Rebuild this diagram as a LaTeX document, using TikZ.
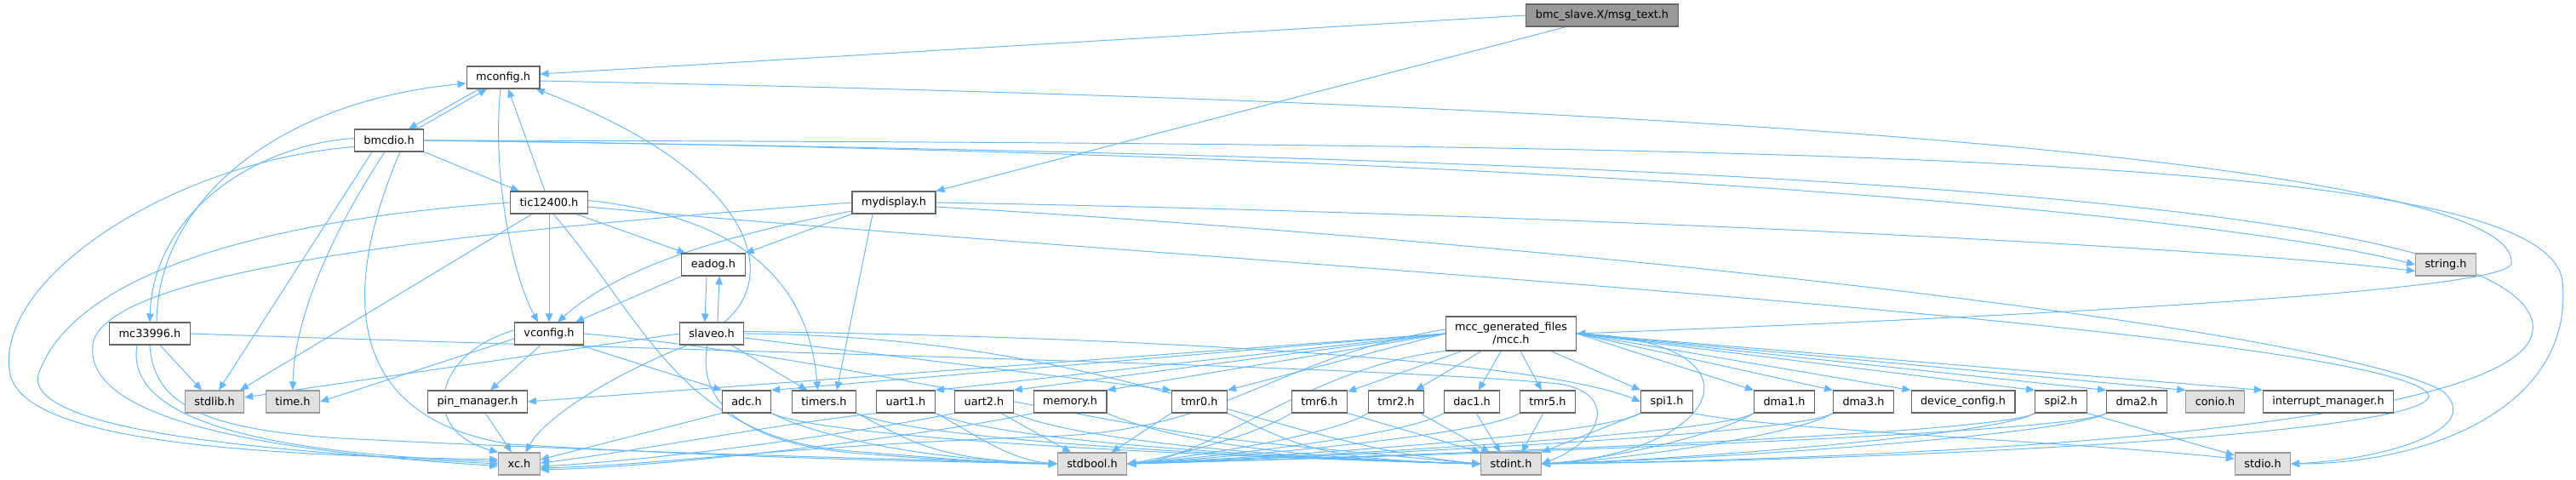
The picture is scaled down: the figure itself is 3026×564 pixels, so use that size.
\documentclass[tikz,border=0pt]{standalone}
\usepackage{fontspec}
\setmainfont{DejaVu Sans}
\usepackage{tikz}
\usetikzlibrary{arrows.meta,backgrounds}
\definecolor{DepBlue}{HTML}{63B8FF}
\definecolor{BoxEdge}{HTML}{666666}
\definecolor{SysFill}{HTML}{E0E0E0}
\definecolor{SysEdge}{HTML}{999999}
\definecolor{RootFill}{HTML}{999999}

\begin{document}
\begin{tikzpicture}[x=0.02cm, y=-0.02cm, font=\fontsize{7.3}{8.4}\selectfont,
  hdr/.style={draw=BoxEdge, fill=white, line width=0.6pt, inner xsep=0.22cm, inner ysep=0pt, minimum height=0.52cm},
  syshdr/.style={hdr, draw=SysEdge, fill=SysFill},
  roothdr/.style={hdr, fill=RootFill},
  dep/.style={draw=DepBlue, line width=0.55pt, -{Triangle[length=0.2cm,width=0.17cm]}}]

\useasboundingbox (0,0) rectangle (3026,564);

\node[roothdr] (msg) at (1882,18) {bmc\_slave.X/msg\_text.h};
\node[hdr] (mconfig) at (591,91) {mconfig.h};
\node[hdr] (bmcdio) at (457,165) {bmcdio.h};
\node[hdr] (tic12400) at (645,238) {tic12400.h};
\node[hdr] (mydisplay) at (1050,238) {mydisplay.h};
\node[hdr] (eadog) at (838,311) {eadog.h};
\node[syshdr] (string) at (2873,311) {string.h};
\node[hdr] (mc33996) at (176,392) {mc33996.h};
\node[hdr] (vconfig) at (645,392) {vconfig.h};
\node[hdr] (slaveo) at (836,392) {slaveo.h};
\node[hdr, minimum height=0.8cm, align=center] (mcc) at (1775,392) {mcc\_generated\_files\\/mcc.h};

\node[syshdr] (stdlib) at (252,472) {stdlib.h};
\node[syshdr] (time) at (344,472) {time.h};
\node[hdr] (pinman) at (561,472) {pin\_manager.h};
\node[hdr] (adc) at (877,472) {adc.h};
\node[hdr] (timers) at (968,472) {timers.h};
\node[hdr] (uart1) at (1064,472) {uart1.h};
\node[hdr] (uart2) at (1156,472) {uart2.h};
\node[hdr] (memory) at (1257,472) {memory.h};
\node[hdr] (tmr0) at (1409,472) {tmr0.h};
\node[hdr] (tmr6) at (1550,472) {tmr6.h};
\node[hdr] (tmr2) at (1640,472) {tmr2.h};
\node[hdr] (dac1) at (1729,472) {dac1.h};
\node[hdr] (tmr5) at (1818,472) {tmr5.h};
\node[hdr] (spi1) at (1958,472) {spi1.h};
\node[hdr] (dma1) at (2096,472) {dma1.h};
\node[hdr] (dma3) at (2189,472) {dma3.h};
\node[hdr] (devcfg) at (2306,472) {device\_config.h};
\node[hdr] (spi2) at (2421,472) {spi2.h};
\node[hdr] (dma2) at (2510,472) {dma2.h};
\node[syshdr] (conio) at (2602,472) {conio.h};
\node[hdr] (intmgr) at (2735,472) {interrupt\_manager.h};

\node[syshdr] (xc) at (610,545) {xc.h};
\node[syshdr] (stdbool) at (1283,545) {stdbool.h};
\node[syshdr] (stdint) at (1775,545) {stdint.h};
\node[syshdr] (stdio) at (2658,545) {stdio.h};

\begin{pgfonlayer}{background}
\fill[white] (0,0) rectangle (3026,564);

% root
\draw[dep] (msg.west) -- ([yshift=0.08cm]mconfig.east);
\draw[dep] ([xshift=-0.84cm]msg.south) -- (mydisplay.north east);

% mconfig.h
\draw[dep] ([xshift=-0.56cm]mconfig.south) -- ([xshift=0.46cm]bmcdio.north);
\draw[dep] ([xshift=-0.06cm]mconfig.south) .. controls (578,200) and (600,320) .. ([xshift=-0.26cm]vconfig.north);
\draw[dep] ([yshift=-0.08cm]mconfig.east) .. controls (2400,130) and (2960,220) .. (2950,310) .. controls (2940,345) and (2300,375) .. (mcc.east);

% bmcdio.h
\draw[dep] ([xshift=0.66cm]bmcdio.north) -- ([xshift=-0.38cm]mconfig.south);
\draw[dep] ([yshift=0.05cm]bmcdio.west) .. controls (300,170) and (180,250) .. (mc33996.north);
\draw[dep] (bmcdio.south east) -- ([xshift=-0.7cm]tic12400.north);
\draw[dep] ([xshift=-0.4cm]bmcdio.south) -- ([xshift=0.1cm]stdlib.north);
\draw[dep] ([xshift=-0.1cm]bmcdio.south) .. controls (385,280) and (345,380) .. (time.north);
\draw[dep] ([yshift=-0.15cm]bmcdio.west) .. controls (200,190) and (-10,330) .. (12,440) .. controls (30,520) and (300,535) .. ([yshift=0.1cm]xc.west);
\draw[dep] ([xshift=0.26cm]bmcdio.south) .. controls (405,330) and (395,490) .. (600,522) .. controls (900,540) and (1100,542) .. (stdbool.west);
\draw[dep] (bmcdio.east) .. controls (1800,180) and (2600,250) .. (string.west);
\draw[dep] (bmcdio.east) .. controls (2200,168) and (2990,185) .. (3010,330) .. controls (3025,480) and (2850,545) .. (stdio.east);
\draw[dep] (bmcdio.east) .. controls (2000,185) and (2950,230) .. (2975,380) .. controls (2995,500) and (2300,538) .. (stdint.east);

% mc33996.h
\draw[dep] ([xshift=0.16cm]mc33996.north) .. controls (185,240) and (320,120) .. ([yshift=-0.14cm]mconfig.west);
\draw[dep] ([xshift=0.24cm]mc33996.south) -- ([xshift=-0.3cm]stdlib.north);
\draw[dep] ([xshift=-0.3cm]mc33996.south) .. controls (150,470) and (230,530) .. ([yshift=0.05cm]xc.west);
\draw[dep] (mc33996.south) .. controls (180,480) and (250,505) .. (400,515) .. controls (800,535) and (1100,540) .. (stdbool.west);
\draw[dep] (mc33996.east) .. controls (900,415) and (1600,430) .. (1820,450) .. controls (1900,455) and (1890,515) .. (stdint.east);

% tic12400.h
\draw[dep] ([xshift=-0.1cm]tic12400.north) -- ([xshift=0.12cm]mconfig.south);
\draw[dep] (tic12400) -- (vconfig);
\draw[dep] ([xshift=-0.28cm]tic12400.south east) -- ([xshift=0.1cm]eadog.north west);
\draw[dep] ([xshift=-0.4cm]tic12400.south) -- ([xshift=0.6cm]stdlib.north);
\draw[dep] ([yshift=0.05cm]tic12400.east) .. controls (870,255) and (950,330) .. ([xshift=-0.15cm]timers.north);
\draw[dep] (tic12400.west) .. controls (350,255) and (90,310) .. (45,440) .. controls (30,505) and (300,530) .. (xc.west);
\draw[dep] ([xshift=0.1cm]tic12400.south) .. controls (760,380) and (800,515) .. (1000,530) .. controls (1100,538) and (1180,545) .. (stdbool.west);
\draw[dep] ([yshift=-0.1cm]tic12400.east) .. controls (1300,300) and (2750,380) .. (2850,460) .. controls (2900,505) and (2300,540) .. (stdint.east);

% mydisplay.h
\draw[dep] (mydisplay.south west) -- (eadog.north east);
\draw[dep] ([yshift=-0.2cm]mydisplay.west) .. controls (830,280) and (720,320) .. ([xshift=0.2cm]vconfig.north);
\draw[dep] ([xshift=-0.5cm]mydisplay.south) -- ([xshift=0.3cm]timers.north);
\draw[dep] (mydisplay.west) .. controls (600,268) and (140,310) .. (110,400) .. controls (90,490) and (300,530) .. ([yshift=-0.05cm]xc.west);
\draw[dep] (mydisplay.east) .. controls (1800,250) and (2600,290) .. ([yshift=-0.15cm]string.west);
\draw[dep] ([yshift=-0.1cm]mydisplay.east) .. controls (1900,290) and (2750,390) .. (2870,460) .. controls (2920,505) and (2800,540) .. (stdio.east);

% eadog.h, slaveo.h
\draw[dep] (eadog.south west) -- ([xshift=-0.2cm]vconfig.north east);
\draw[dep] ([xshift=-0.16cm]eadog.south) -- ([xshift=-0.16cm]slaveo.north);
\draw[dep] ([xshift=0.14cm]slaveo.north) -- ([xshift=0.14cm]eadog.south);
\draw[dep] ([xshift=0.3cm]slaveo.north) .. controls (920,320) and (880,200) .. ([xshift=-0.1cm]mconfig.south east);
\draw[dep] (slaveo.west) -- ([yshift=0.1cm]stdlib.east);
\draw[dep] ([xshift=0.2cm]slaveo.south west) .. controls (720,440) and (640,490) .. ([xshift=0.15cm]xc.north);
\draw[dep] ([xshift=-0.3cm]slaveo.south east) -- ([xshift=-0.4cm]timers.north);
\draw[dep] ([xshift=-0.1cm]slaveo.south) .. controls (818,470) and (870,520) .. (1000,532) .. controls (1100,540) and (1180,545) .. (stdbool.west);
\draw[dep] ([yshift=-0.1cm]slaveo.east) -- (tmr0.north west);
\draw[dep] ([yshift=0.05cm]slaveo.east) .. controls (1300,395) and (1800,420) .. (spi1.west);
\draw[dep] (slaveo.east) .. controls (1300,395) and (1480,520) .. (stdint.west);

% vconfig.h
\draw[dep] ([yshift=-0.12cm]vconfig.west) -- (time.east);
\draw[dep] ([yshift=0.08cm]vconfig.west) .. controls (510,415) and (490,505) .. (xc.north west);
\draw[dep] ([xshift=-0.2cm]vconfig.south) -- ([xshift=0.3cm]pinman.north);
\draw[dep] ([xshift=-0.1cm]vconfig.south east) -- (adc.north west);
\draw[dep] (vconfig.east) .. controls (1000,420) and (1300,505) .. (1500,522) .. controls (1600,532) and (1680,540) .. (stdint.west);

% mcc.h
\draw[dep] (mcc.west) -- (pinman.east);
\draw[dep] (mcc.west) -- (adc.north east);
\foreach \n in {uart1,uart2,memory,tmr0} \draw[dep] (mcc.west) -- (\n.north east);
\foreach \n in {tmr6,tmr2,dac1,tmr5,spi1} \draw[dep] (mcc) -- (\n);
\foreach \n in {dma1,dma3,devcfg,spi2,dma2,conio,intmgr} \draw[dep] (mcc.east) -- (\n.north west);
\draw[dep] ([yshift=0.1cm]mcc.west) .. controls (1500,420) and (1450,500) .. (1250,512) .. controls (900,525) and (800,545) .. ([yshift=-0.1cm]xc.east);
\draw[dep] (mcc.south west) .. controls (1540,430) and (1420,540) .. (stdbool.east);
\draw[dep] (mcc.east) .. controls (2080,400) and (2030,530) .. (stdint.east);

% peripherals to xc.h
\draw[dep] (pinman) -- (xc);
\draw[dep] (adc.south west) -- ([yshift=0.1cm]xc.east);
\draw[dep] (uart1.south west) .. controls (900,500) and (750,530) .. ([yshift=0.02cm]xc.east);
\draw[dep] (uart2.south west) .. controls (1000,510) and (780,540) .. ([yshift=-0.06cm]xc.east);
\draw[dep] (memory.south west) .. controls (1100,510) and (800,548) .. ([yshift=-0.14cm]xc.east);

% to stdbool.h
\foreach \n in {adc,timers} \draw[dep] (\n.south east) .. controls +(60,30) and +(-150,-5) .. (stdbool.west);
\draw[dep] (uart1.south east) .. controls +(40,20) and +(-60,-5) .. (stdbool.west);
\draw[dep] ([xshift=0.4cm]uart2.south) -- ([xshift=-0.5cm]stdbool.north);
\draw[dep] (tmr0.south west) -- ([xshift=0.45cm]stdbool.north);
\foreach \n/\off in {tmr6/60,tmr2/90,dac1/120,tmr5/150,spi1/200,dma1/240,dma3/270,spi2/350,dma2/380}
  \draw[dep] (\n.south west) .. controls +(-40,25) and +(\off,-10) .. (stdbool.east);

% to stdint.h
\foreach \n in {adc,timers,uart1,uart2,memory,tmr0} \draw[dep] (\n.south east) .. controls +(80,35) and +(-200,-5) .. (stdint.west);
\draw[dep] (tmr6.south east) -- (stdint.north west);
\draw[dep] ([xshift=-0.1cm]tmr2.south east) -- ([xshift=-0.5cm]stdint.north);
\draw[dep] ([xshift=0.1cm]dac1.south) -- ([xshift=-0.25cm]stdint.north);
\draw[dep] ([xshift=-0.1cm]tmr5.south) -- ([xshift=0.25cm]stdint.north);
\draw[dep] (spi1.south west) -- (stdint.north east);
\foreach \n/\off in {dma1/80,dma3/100,spi2/170,dma2/200}
  \draw[dep] (\n.south west) .. controls +(-40,25) and +(\off,-5) .. (stdint.east);

% to stdio.h
\draw[dep] (spi1.south east) .. controls (2080,505) and (2450,520) .. ([yshift=0.12cm]stdio.west);
\draw[dep] (spi2.south east) -- ([yshift=0.2cm]stdio.west);
\end{pgfonlayer}
\end{tikzpicture}
\end{document}
